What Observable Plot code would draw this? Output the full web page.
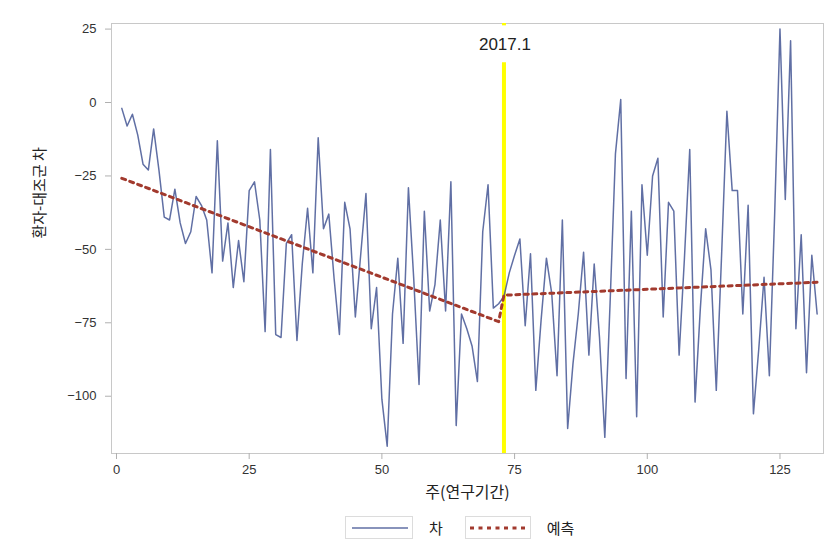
<!DOCTYPE html>
<html>
<head>
<meta charset="utf-8">
<script src="https://cdn.jsdelivr.net/npm/d3@7"></script>
<script src="https://cdn.jsdelivr.net/npm/@observablehq/plot@0.6"></script>
<style>
  html, body { margin: 0; padding: 0; background: #fff; }
  #wrap { position: relative; width: 826px; height: 548px; font-family: "Liberation Sans", "Noto Sans CJK KR", sans-serif; }
  #legend { position: absolute; left: 345px; top: 515px; height: 25px; display: flex; align-items: center; font-family: "Noto Sans CJK KR", sans-serif; font-size: 15px; color: #222; }
  .sw { border: 1px solid #dcdcdc; height: 23px; display: flex; align-items: center; box-sizing: border-box; }
</style>
</head>
<body>
<div id="wrap">
  <div id="plot"></div>
  <div id="legend">
    <div class="sw" style="width:68px"><svg width="66" height="20"><line x1="6" x2="62" y1="10" y2="10" stroke="#445694" stroke-width="1.5" stroke-opacity="0.85"/></svg></div>
    <span style="margin:0 22px 0 16px">차</span>
    <div class="sw" style="width:66px"><svg width="64" height="20"><line x1="4" x2="62" y1="10" y2="10" stroke="#A23A2E" stroke-width="3" stroke-dasharray="4,4.5"/></svg></div>
    <span style="margin-left:16px">예측</span>
  </div>
</div>
<script>
// 주(연구기간) — week index 1..132
const diffValues = [
  -2, -8, -4, -11, -21, -23, -9, -23, -39, -40,
  -29.5, -41, -48, -44, -32, -35, -40, -58, -13, -54,
  -41, -63, -47, -61, -30, -27, -40, -78, -16, -79,
  -80, -48, -45, -81, -55, -36, -58, -12, -43, -38,
  -60, -79, -34, -43, -73, -52, -31, -77, -63, -101,
  -117, -72, -53, -82, -29, -60, -96, -37, -71, -62,
  -40, -71, -27, -110, -72, -77, -83, -95, -44, -28,
  -70, -68.5, -66, -58, -52, -46.5, -76, -51.5, -98, -74,
  -53, -65, -93, -40, -111, -89, -72, -51, -86, -55,
  -80, -114, -68, -17.5, 1, -94, -37, -107, -28, -52,
  -25, -19, -73, -34, -37, -86, -53, -16, -102, -70,
  -43, -57, -98, -52, -3, -30, -30, -72, -35, -106,
  -84, -59.5, -93, -38, 25, -33, 21, -77, -45, -92,
  -52, -72
];
// 예측 (fitted segments before / after 2017.1)
const predWeeks = [1, 72, 73, 132];
const predValues = [-25.8, -74.6, -65.6, -61.2];

const refWeek = 73;
const refLabel = "2017.1";
const xTicks = [0, 25, 50, 75, 100, 125];
const yTicks = [25, 0, -25, -50, -75, -100];
const xDomain = [-0.94, 133.2];
const yDomain = [-119.5, 26.9];
const refGapBottom = 13.5, refGapTop = 26.1;
const refLabelY = 19.6;

const diff = diffValues.map((v, i) => ({week: i + 1, value: v}));
const pred = predWeeks.map((w, i) => ({week: w, value: predValues[i]}));

const chart = Plot.plot({
  width: 826,
  height: 510,
  marginLeft: 111,
  marginRight: 3,
  marginTop: 23,
  marginBottom: 57,
  x: {domain: xDomain},
  y: {domain: yDomain},
  style: {fontFamily: '"Liberation Sans", "Noto Sans CJK KR", sans-serif', background: "#fff", overflow: "visible"},
  marks: [
    Plot.frame({stroke: "#c8c8c8"}),
    Plot.axisX(xTicks, {tickSize: 6, tickPadding: 5, fontSize: 13, stroke: "#b0b0b0", fill: "#333", label: null}),
    Plot.axisY(yTicks, {tickSize: 6, tickPadding: 9, fontSize: 13, stroke: "#b0b0b0", fill: "#333", label: null}),
    Plot.ruleX([refWeek], {y1: yDomain[0], y2: refGapBottom, stroke: "#ffff00", strokeWidth: 4}),
    Plot.ruleX([refWeek], {y1: refGapTop, y2: yDomain[1], stroke: "#ffff00", strokeWidth: 4}),
    Plot.line(diff, {x: "week", y: "value", stroke: "#445694", strokeWidth: 1.5, strokeOpacity: 0.85}),
    Plot.line(pred, {x: "week", y: "value", stroke: "#A23A2E", strokeWidth: 3, strokeDasharray: "4,4.5"}),
    Plot.text([refLabel], {x: refWeek, y: refLabelY, dx: 1, fontSize: 17, fill: "#222"}),
    Plot.text(["주(연구기간)"], {frameAnchor: "bottom", dy: 44, fontSize: 16, fill: "#222", fontFamily: '"Noto Sans CJK KR", sans-serif'}),
    Plot.text(["환자-대조군 차"], {frameAnchor: "left", dx: -71, rotate: -90, fontSize: 15, fill: "#222", fontFamily: '"Noto Sans CJK KR", sans-serif'})
  ]
});
document.getElementById("plot").appendChild(chart);
</script>
</body>
</html>
